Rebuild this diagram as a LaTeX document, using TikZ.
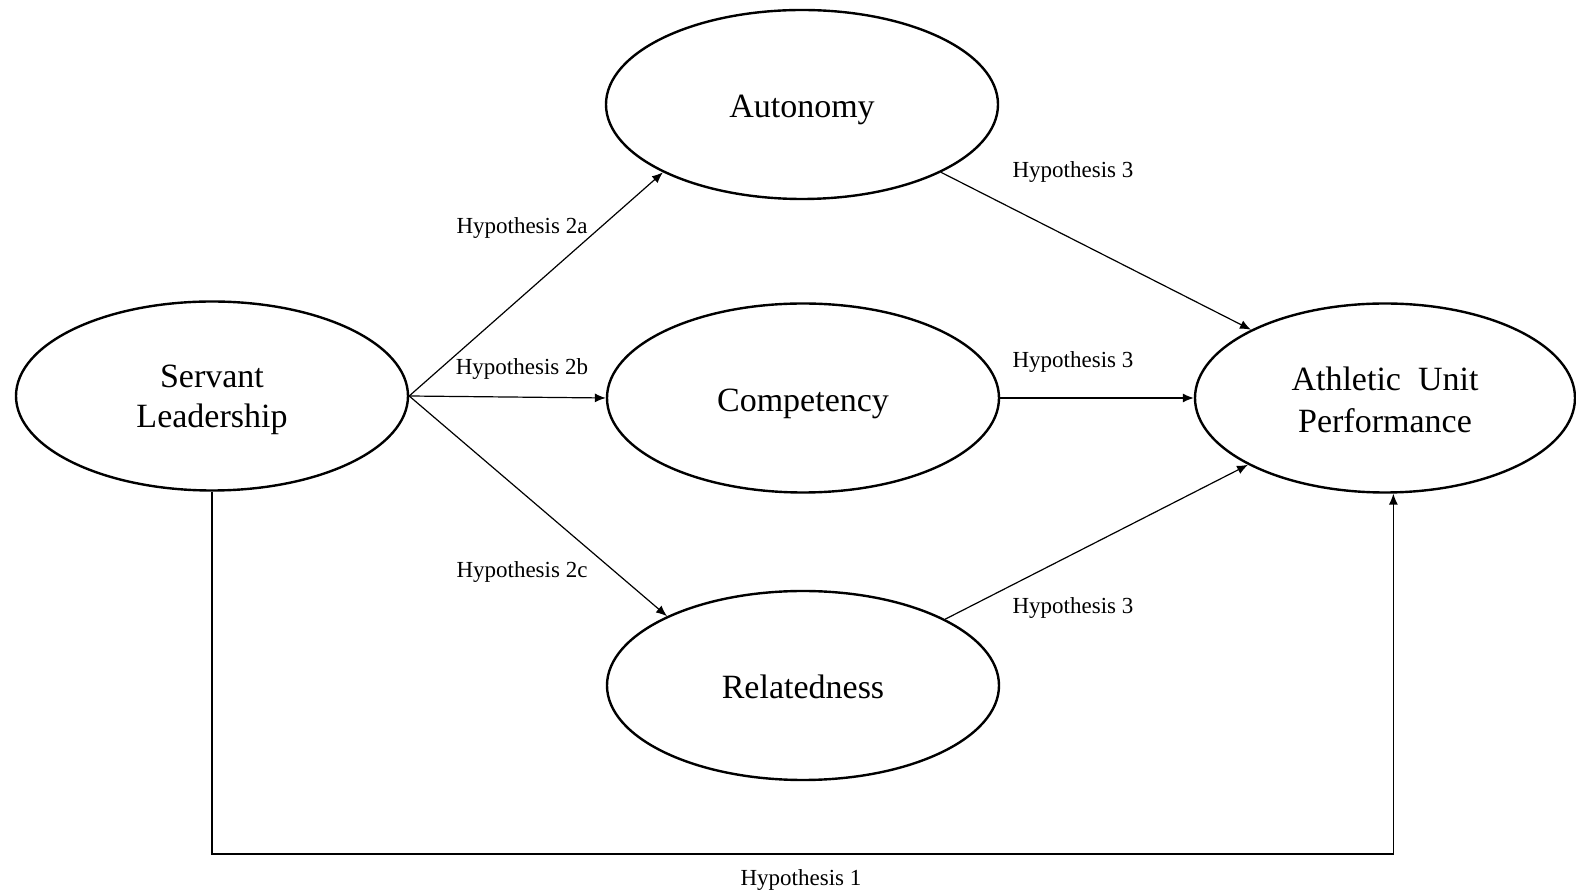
\documentclass[tikz,border=0pt]{standalone}
\usepackage{fontspec}
\setmainfont{Liberation Serif}
\usetikzlibrary{shapes.geometric,arrows.meta}
\begin{document}
\begin{tikzpicture}[x=0.5pt,y=-0.5pt,
  construct/.style={ellipse,draw,line width=1.2pt,inner sep=0pt,minimum width=196pt,minimum height=94.5pt,
    font=\fontsize{17}{20}\selectfont,align=center},
  oneline/.style={text height=13.4pt,text depth=0pt},
  arr/.style={line width=0.6pt,-{Latex[length=5.5pt,width=4.5pt]}},
  hyp/.style={font=\fontsize{11.5}{13}\selectfont,inner sep=0pt}]
\useasboundingbox (0,0) rectangle (1576,892);
\node[construct] (SL) at (212,396) {\rule{0pt}{15.6pt}Servant\\Leadership};
\node[construct,oneline] (AU) at (802,104.5) {Autonomy};
\node[construct,oneline] (CO) at (803,398) {Competency};
\node[construct,text height=12.6pt,text depth=0pt] (RE) at (803,685.5) {Relatedness};
\node[construct,minimum width=190pt,font=\fontsize{17}{21}\selectfont] (AP) at (1385,398) {\rule{0pt}{13.6pt}Athletic\hspace{0.5em}Unit\\Performance};
\coordinate (low) at (0,854);
\draw[arr] (SL.east) -- (AU.206.6);
\draw[arr] (SL.east) -- (CO.west);
\draw[arr] (SL.east) -- (RE.153.6);
\draw[arr] (AU.334.4) -- (AP.153.3);
\draw[arr] (CO.east) -- (AP.west);
\draw[arr] (RE.25.8) -- (AP.206.7);
\draw[arr] (SL.south) -- (SL.south |- low) -| (AP.-85.8);
\node[hyp] (h2a) at (522,228.5) {Hypothesis 2a};
\node[hyp] (h2b) at (522,369.5) {Hypothesis 2b};
\node[hyp] (h2c) at (522,572.5) {Hypothesis 2c};
\node[hyp] (h3a) at (1073,172.5) {Hypothesis 3};
\node[hyp] (h3b) at (1073,362.5) {Hypothesis 3};
\node[hyp] (h3c) at (1073,608.5) {Hypothesis 3};
\node[hyp] (h1) at (801,880.5) {Hypothesis 1};
\end{tikzpicture}
\end{document}
